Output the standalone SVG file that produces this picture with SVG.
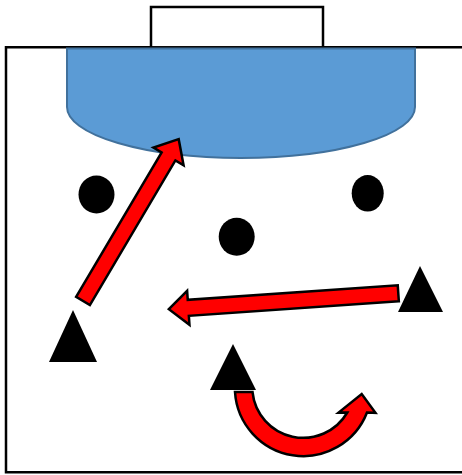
<svg xmlns="http://www.w3.org/2000/svg" width="462" height="475" viewBox="0 0 462 475">
<style>
.line{fill:none;stroke:#000;stroke-width:2.5}
.goal{fill:#fff;stroke:#000;stroke-width:2.5}
.zone{fill:#5B9BD5;stroke:#41719C;stroke-width:2}
.ball{fill:#000}
.player{fill:#000}
.arrow{fill:#FF0000;stroke:#000;stroke-width:2.5;stroke-linejoin:miter}
</style>
<g id="field">
<path class="line" d="M462,47.3 L6,47.3 L6,472.3 L462,472.3"/>
</g>
<g id="goal">
<rect class="goal" x="151" y="7" width="172" height="40.3"/>
</g>
<g id="zone">
<path class="zone" d="M67,48.5 L415,48.5 L415,107 A174,51 0 0 1 67,107 Z"/>
</g>
<g id="cone-left"><ellipse class="ball" cx="96.5" cy="194.5" rx="18" ry="19"/></g>
<g id="cone-middle"><ellipse class="ball" cx="236.7" cy="236.7" rx="18" ry="19"/></g>
<g id="cone-right"><ellipse class="ball" cx="367.7" cy="193.3" rx="16" ry="18.3"/></g>
<g id="player-left"><polygon class="player" points="73,310 49,362 97,362"/></g>
<g id="player-bottom"><polygon class="player" points="233,344 210,390 256,390"/></g>
<g id="player-right"><polygon class="player" points="420,266 398,312 443,312"/></g>
<g id="connectors">
<path class="arrow" transform="translate(83,301) rotate(-59.4)" d="M0,-8 L168,-8 L168,-17.5 L188,0 L168,17.5 L168,8 L0,8 Z"/>
<path class="arrow" transform="translate(398.3,293.3) rotate(176.04)" d="M0,-8 L210.5,-8 L210.5,-17 L230,0 L210.5,17 L210.5,8 L0,8 Z"/>
<path class="arrow" d="M235,392 A68.4,68.4 0 0 0 367,412.5 L375.5,412.8 L361.7,394 L338.5,412.6 L347.3,412.5 A51,51 0 0 1 252.5,392 Z"/>
</g>
</svg>
